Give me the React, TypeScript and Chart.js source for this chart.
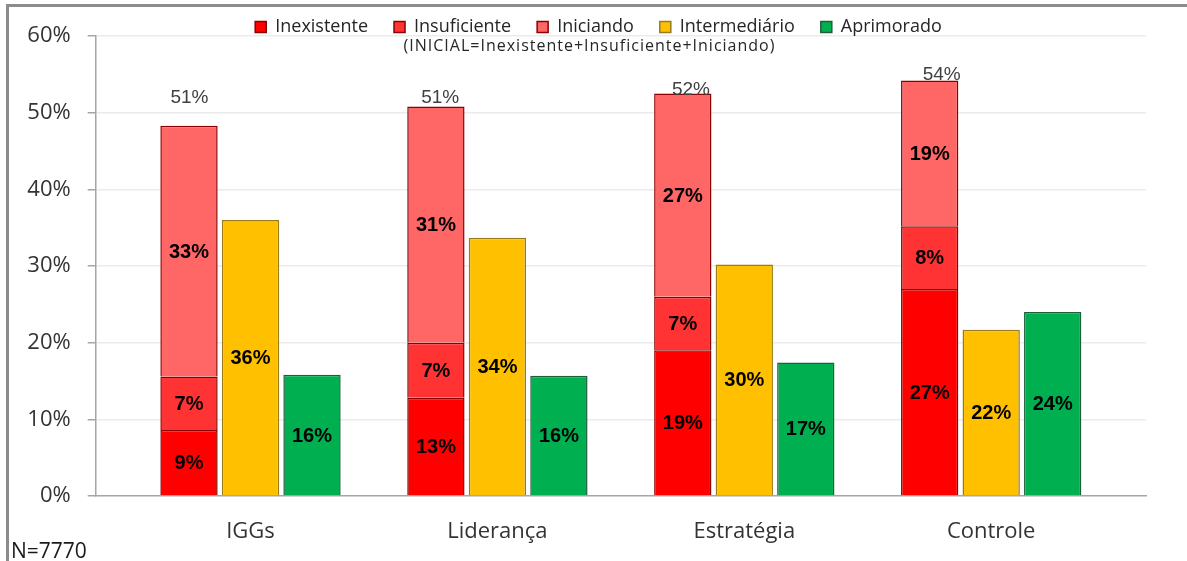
import React, { useEffect, useRef } from "react";
import { Chart, registerables } from "chart.js";

Chart.register(...registerables);

const categories = ["IGGs", "Liderança", "Estratégia", "Controle"];
const inexistente = [8.6, 12.8, 19.0, 27.0];
const insuficiente = [7.0, 7.2, 7.0, 8.2];
const iniciando = [32.7, 30.8, 26.5, 19.0];
const intermediario = [36.0, 33.7, 30.2, 21.7];
const aprimorado = [15.8, 15.7, 17.4, 24.0];
const inicialTotal = [51, 51, 52, 54];
const yTicks = [0, 10, 20, 30, 40, 50, 60];
const subtitleText = "(INICIAL=Inexistente+Insuficiente+Iniciando)";
const footnoteText = "N=7770";

const SANS = '"Open Sans", "DejaVu Sans", sans-serif';
const ARIAL = '"Liberation Sans", Arial, sans-serif';

// widen the category axis range so the groups sit where they do in the original
const setRange = (start: number, range: number) => (s: any) => {
  s._startValue = start;
  s._valueRange = range;
};

const decorPlugin = {
  id: "decor",
  beforeLayout(chart: any) {
    const lg = chart.legend;
    if (lg && !lg._patchedFit) {
      const orig = lg.fit;
      lg.fit = function () {
        orig.call(this);
        this.height = 44;
      };
      lg._patchedFit = true;
    }
  },
  beforeDraw(chart: any) {
    const { ctx, width, height } = chart;
    ctx.save();
    ctx.fillStyle = "#ffffff";
    ctx.fillRect(0, 0, width, height);
    ctx.fillStyle = "#8c8c8c";
    ctx.fillRect(6, 4, width - 6, 3);
    ctx.fillRect(6, 4, 3, height - 4);
    ctx.restore();
  },
  afterDatasetsDraw(chart: any) {
    const ctx = chart.ctx;
    ctx.save();
    chart.data.datasets.forEach((ds: any, di: number) => {
      const meta = chart.getDatasetMeta(di);
      if (meta.hidden || meta.type !== "bar") return;
      ctx.font = `bold 20px ${ARIAL}`;
      ctx.fillStyle = "#000000";
      ctx.textAlign = "center";
      ctx.textBaseline = "middle";
      meta.data.forEach((el: any, i: number) => {
        const v = ds.data[i];
        const p = el.getProps(["x", "y", "base"], true);
        ctx.fillText(Math.round(v) + "%", p.x, (p.y + p.base) / 2 + 1);
      });
    });
    // INICIAL totals, placed through the scales
    const sx = chart.scales.x2;
    const sy = chart.scales.y;
    ctx.font = `19px ${ARIAL}`;
    ctx.fillStyle = "#404040";
    ctx.textAlign = "center";
    ctx.textBaseline = "alphabetic";
    inicialTotal.forEach((v, i) => {
      ctx.fillText(v + "%", sx.getPixelForValue(i), sy.getPixelForValue(v) - 2.5);
    });
    ctx.restore();
  },
  afterDraw(chart: any) {
    const { ctx, chartArea, width, height } = chart;
    ctx.save();
    ctx.font = `16px ${SANS}`;
    ctx.fillStyle = "#262626";
    ctx.textAlign = "center";
    ctx.textBaseline = "middle";
    try {
      (ctx as any).letterSpacing = "1px";
    } catch (e) {}
    ctx.fillText(subtitleText, width / 2 - 4, chartArea.top + 10);
    try {
      (ctx as any).letterSpacing = "0px";
    } catch (e) {}
    ctx.font = `21px ${SANS}`;
    ctx.fillStyle = "#1a1a1a";
    ctx.textAlign = "left";
    ctx.textBaseline = "alphabetic";
    ctx.fillText(footnoteText, 11, height - 3);
    ctx.restore();
  },
};

export default function App() {
  const canvasRef = useRef<HTMLCanvasElement | null>(null);

  useEffect(() => {
    document.body.style.margin = "0";
    const canvas = canvasRef.current;
    if (!canvas) return;
    const chart = new Chart(canvas, {
      type: "bar",
      data: {
        labels: categories,
        datasets: [
          {
            label: "Inexistente",
            data: inexistente,
            backgroundColor: "#FF0000",
            borderColor: "#8B0000",
            borderWidth: 1.5,
            stack: "inicial",
          },
          {
            label: "Insuficiente",
            data: insuficiente,
            backgroundColor: "#FF3333",
            borderColor: "#8B0000",
            borderWidth: 1.5,
            stack: "inicial",
          },
          {
            label: "Iniciando",
            data: iniciando,
            backgroundColor: "#FF6666",
            borderColor: "#8B0000",
            borderWidth: 1.5,
            stack: "inicial",
          },
          {
            label: "Intermediário",
            data: intermediario,
            backgroundColor: "#FFC000",
            borderColor: "#9A7B1C",
            borderWidth: 1.5,
            stack: "inter",
          },
          {
            label: "Aprimorado",
            data: aprimorado,
            backgroundColor: "#00B050",
            borderColor: "#1E5E38",
            borderWidth: 1.5,
            stack: "aprim",
          },
        ],
      },
      options: {
        animation: false,
        responsive: true,
        maintainAspectRatio: false,
        categoryPercentage: 0.7473,
        barPercentage: 0.932,
        layout: { padding: { top: -8, left: 10, right: 0, bottom: 0 } },
        plugins: {
          legend: {
            position: "top",
            labels: {
              font: { family: SANS, size: 18 },
              color: "#262626",
              boxWidth: 11,
              boxHeight: 11,
              padding: 26,
            },
          },
          tooltip: { enabled: false },
        },
        scales: {
          x: {
            type: "category",
            offset: true,
            grid: { display: false, drawTicks: false },
            border: { display: true, color: "#a6a6a6", width: 1.5 },
            ticks: {
              font: { family: SANS, size: 22 },
              color: "#333333",
              padding: 23,
              autoSkip: false,
              maxRotation: 0,
            },
            afterBuildTicks: setRange(-0.627, 4.254),
            afterFit: (s: any) => {
              s.height = 65;
            },
          },
          x2: {
            type: "category",
            offset: true,
            display: false,
            afterBuildTicks: setRange(-0.374, 4.189),
          },
          y: {
            stacked: true,
            min: 0,
            max: 60,
            afterBuildTicks: (s: any) => {
              s.ticks = yTicks.map((v) => ({ value: v }));
            },
            ticks: {
              font: { family: SANS, size: 22 },
              color: "#333333",
              padding: 17,
              callback: (v: any) => v + "%",
            },
            grid: {
              color: (c: any) => (c.tick && c.tick.value === 0 ? "rgba(0,0,0,0)" : "#ebebeb"),
              lineWidth: 1.5,
              drawTicks: true,
              tickLength: 8,
              tickColor: "#a6a6a6",
            },
            border: { display: true, color: "#a6a6a6", width: 1.5 },
            afterFit: (s: any) => {
              s.width = 85.7;
            },
          },
          yR: {
            type: "linear",
            position: "right",
            display: true,
            grid: { display: false, drawTicks: false },
            ticks: { display: false },
            border: { display: false },
            afterFit: (s: any) => {
              s.width = 41;
            },
          },
        },
      } as any,
      plugins: [decorPlugin as any],
    });
    return () => chart.destroy();
  }, []);

  return (
    <div style={{ position: "relative", width: "1187px", height: "561px" }}>
      <canvas ref={canvasRef} />
    </div>
  );
}
